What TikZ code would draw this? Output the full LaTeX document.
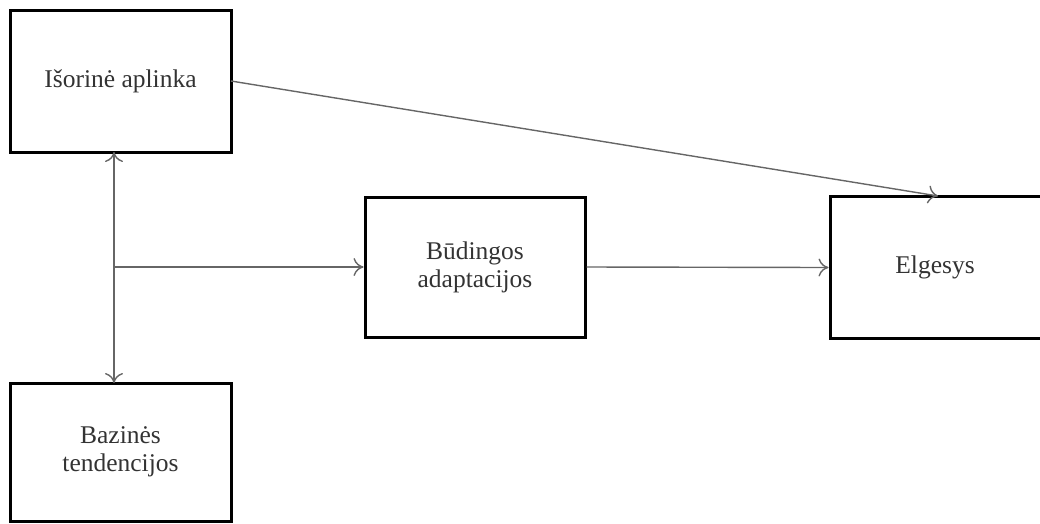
\documentclass[tikz,border=0pt]{standalone}
\usepackage{fontspec}
\setmainfont{Liberation Serif}
\usetikzlibrary{arrows.meta}
\begin{document}
\begin{tikzpicture}[x=1pt,y=-1pt,
  blk/.style={draw=black,line width=3pt,rectangle,inner sep=0pt,align=center,
    font=\fontsize{25.5}{28}\selectfont,text=black!80},
  conn/.style={draw=black!60,line width=1.4pt,-{To[length=10pt,width=18pt,line width=1.4pt]}}]
\useasboundingbox (0,0) rectangle (1040,523);
\clip (0,0) rectangle (1040,523);
\node[blk,minimum width=221pt,minimum height=142pt] (isor) at (120.5,81) {Išorinė aplinka};
\node[blk,minimum width=221pt,minimum height=138pt] (baz) at (120.5,452) {Bazinės\\tendencijos};
\node[blk,minimum width=220pt,minimum height=140pt] (bud) at (475,267) {Būdingos\\adaptacijos};
\node[blk,minimum width=220pt,minimum height=142pt] (elg) at (940,267.5) {};
\node[font=\fontsize{25.5}{28}\selectfont,text=black!80] (elgt) at (935,267) {Elgesys};
\coordinate (j) at (114,267);
\coordinate (isorb) at (114,152);
\coordinate (bazt) at (114,383);
\coordinate (isorr) at (231,81);
\coordinate (elgt2) at (938,196);
\draw[conn] (j) -- (isorb);
\draw[conn] (j) -- (bazt);
\draw[conn] (j) -- (bud.west);
\draw[conn] (bud.east) -- (elg.west);
\draw[conn] (isorr) -- (elgt2);
\end{tikzpicture}
\end{document}
